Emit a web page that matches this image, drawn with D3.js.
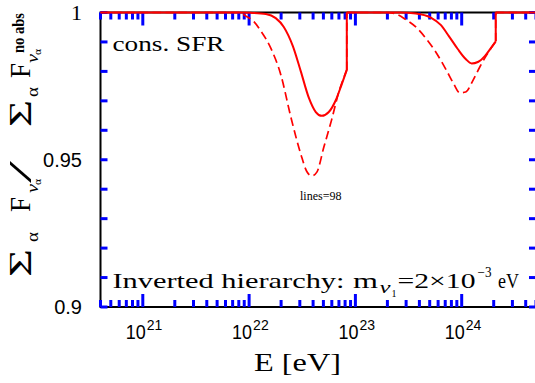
<!DOCTYPE html>
<html>
<head>
<meta charset="utf-8">
<script src="https://cdn.jsdelivr.net/npm/d3@7"></script>
</head>
<body style="margin:0">
<svg id="chart" width="535" height="383"></svg>
<script>
// energies in eV and flux ratio
// solid curve
const solidE = [4e20, 8.0e21, 1.04e22, 1.44e22, 1.78e22, 2.12e22, 2.58e22, 3.06e22, 3.65e22, 4.24e22, 4.83e22, 5.62e22, 6.55e22, 7.45e22, 8.30e22,
                8.30e22, 2.0e23, 2.67e23, 3.70e23, 5.12e23, 6.35e23, 7.57e23, 9.18e23, 1.09e24, 1.24e24, 1.42e24, 1.65e24, 1.88e24, 2.09e24,
                2.09e24, 5e24];
const solidR = [1, 1, 0.9999, 0.9995, 0.9981, 0.9951, 0.9886, 0.9801, 0.9710, 0.9662, 0.9649, 0.9662, 0.9703, 0.9757, 0.9805,
                1, 1, 1, 0.9997, 0.9983, 0.9958, 0.9920, 0.9876, 0.9842, 0.9827, 0.9832, 0.9852, 0.9879, 0.9902,
                1, 1];
// dashed curve
const dashedE = [4e20, 8.0e21, 9.31e21, 1.11e22, 1.29e22, 1.60e22, 1.99e22, 2.47e22, 3.06e22, 3.49e22, 3.89e22, 4.34e22, 5.05e22, 6.00e22, 6.98e22, 7.78e22, 8.30e22,
                 8.30e22, 1.93e23, 2.40e23, 2.98e23, 3.70e23, 4.59e23, 5.70e23, 7.08e23, 8.43e23, 9.59e23, 1.09e24, 1.27e24, 1.48e24, 1.72e24, 2.09e24,
                 2.09e24, 5e24];
const dashedR = [1, 1, 0.9988, 0.9969, 0.9937, 0.9879, 0.9788, 0.9645, 0.9520, 0.9460, 0.9445, 0.9458, 0.9543, 0.9638, 0.9730, 0.9779, 0.9805,
                 1, 1, 0.9995, 0.9976, 0.9951, 0.9913, 0.9866, 0.9808, 0.9757, 0.9727, 0.9730, 0.9768, 0.9815, 0.9856, 0.9902,
                 1, 1];

// axis ticks
const yTicks = [0.9, 0.95, 1];
const yTickLabels = ["0.9", "0.95", "1"];
const yMinor = [0.9, 0.91, 0.92, 0.93, 0.94, 0.95, 0.96, 0.97, 0.98, 0.99, 1];
const xMajor = [1e21, 1e22, 1e23, 1e24];
const xMajorExp = ["21", "22", "23", "24"];

const svg = d3.select('#chart');
const plot = { left: 100.5, right: 536, top: 12.5, bottom: 307 };

const x = d3.scaleLog().domain([4e20, 5e24]).range([plot.left, plot.right]);
const y = d3.scaleLinear().domain([0.9, 1]).range([plot.bottom, plot.top]);

// frame
svg.append('rect')
    .attr('x', plot.left).attr('y', plot.top)
    .attr('width', plot.right - plot.left).attr('height', plot.bottom - plot.top)
    .attr('fill', 'none').attr('stroke', '#000').attr('stroke-width', 2);

// tick marks, inward
const ticks = svg.append('g').attr('class', 'ticks');
x.ticks(10).forEach(v => {
    const lg = Math.log10(v);
    const len = Math.abs(lg - Math.round(lg)) < 1e-6 ? 13 : 7;
    const px = x(v);
    ticks.append('line').attr('x1', px).attr('x2', px).attr('y1', plot.bottom).attr('y2', plot.bottom - len)
        .attr('stroke', '#0000ff').attr('stroke-width', 3);
    ticks.append('line').attr('x1', px).attr('x2', px).attr('y1', plot.top).attr('y2', plot.top + len)
        .attr('stroke', '#0000ff').attr('stroke-width', 3);
});
yMinor.forEach(v => {
    const py = y(v);
    ticks.append('line').attr('x1', plot.left).attr('x2', plot.left + 7).attr('y1', py).attr('y2', py)
        .attr('stroke', '#0000ff').attr('stroke-width', 3);
    ticks.append('line').attr('x1', plot.right - 7).attr('x2', plot.right).attr('y1', py).attr('y2', py)
        .attr('stroke', '#0000ff').attr('stroke-width', 3);
});

// y tick labels
yTicks.forEach((v, i) => {
    svg.append('text')
        .attr('x', 82).attr('y', y(v)).attr('dy', '0.36em')
        .attr('text-anchor', 'end')
        .attr('font-family', yTickLabels[i] === '1' ? 'Liberation Serif, serif' : 'Liberation Sans, Arial, sans-serif')
        .attr('font-size', yTickLabels[i] === '1' ? 22 : 20)
        .text(yTickLabels[i]);
});

// x tick labels 10^n
xMajor.forEach((v, i) => {
    const t = svg.append('text')
        .attr('x', x(v) - 17).attr('y', 339)
        .attr('font-family', 'Liberation Sans, Arial, sans-serif');
    t.append('tspan').attr('font-size', 20).attr('textLength', 20).attr('lengthAdjust', 'spacingAndGlyphs').text('10');
    t.append('tspan').attr('font-size', 14).attr('dy', -9).attr('dx', 1).text(xMajorExp[i]);
});

// split a series at vertical jumps and draw it
function drawSeries(E, R, dash, width) {
    const pts = E.map((e, i) => [x(e), y(R[i])]);
    const segs = [];
    let cur = [pts[0]];
    for (let i = 1; i < pts.length; i++) {
        if (E[i] === E[i - 1]) {
            segs.push(cur);
            segs.push([pts[i - 1], pts[i]]);
            cur = [pts[i]];
        } else {
            cur.push(pts[i]);
        }
    }
    segs.push(cur);
    const path = d3.path();
    const line = d3.line().curve(d3.curveMonotoneX).context(path);
    segs.forEach(s => line(s));
    const p = svg.append('path')
        .attr('d', path.toString())
        .attr('fill', 'none')
        .attr('stroke', '#ff0000')
        .attr('stroke-width', width);
    if (dash) p.attr('stroke-dasharray', dash);
}

drawSeries(dashedE, dashedR, '8.5,4.5', 1.7);
drawSeries(solidE, solidR, null, 2);

// annotations
const serif = 'Liberation Serif, Times New Roman, serif';
svg.append('text')
    .attr('x', 112.5).attr('y', 51)
    .attr('font-family', serif).attr('font-size', 22)
    .attr('textLength', 112).attr('lengthAdjust', 'spacingAndGlyphs')
    .text('cons. SFR');

const ann = svg.append('g').attr('font-family', serif);
ann.append('text').attr('x', 112.5).attr('y', 287.5).attr('font-size', 22)
    .attr('textLength', 232).attr('lengthAdjust', 'spacingAndGlyphs').text('Inverted hierarchy:');
ann.append('text').attr('x', 353).attr('y', 287.5).attr('font-size', 22)
    .attr('textLength', 25).attr('lengthAdjust', 'spacingAndGlyphs').text('m');
ann.append('text').attr('x', 379.5).attr('y', 293).attr('font-size', 17).attr('font-style', 'italic')
    .attr('textLength', 11).attr('lengthAdjust', 'spacingAndGlyphs').text('ν');
ann.append('text').attr('x', 391.5).attr('y', 296.5).attr('font-size', 10).text('1');
ann.append('text').attr('x', 397.5).attr('y', 287.5).attr('font-size', 22)
    .attr('textLength', 78).attr('lengthAdjust', 'spacingAndGlyphs').text('=2×10');
ann.append('text').attr('x', 477.5).attr('y', 277).attr('font-size', 14)
    .attr('textLength', 14).attr('lengthAdjust', 'spacingAndGlyphs').text('−3');
ann.append('text').attr('x', 498).attr('y', 287.5).attr('font-size', 22)
    .attr('textLength', 21).attr('lengthAdjust', 'spacingAndGlyphs').text('eV');

// x axis title
svg.append('text')
    .attr('x', 254).attr('y', 371)
    .attr('font-family', serif).attr('font-size', 26)
    .attr('textLength', 87).attr('lengthAdjust', 'spacingAndGlyphs')
    .text('E [eV]');

// y axis title, rotated
const yl = svg.append('g').attr('transform', 'translate(31,0) rotate(-90)').attr('font-family', serif);
function piece(txt, lx, ly, size, len, extra) {
    const t = yl.append('text').attr('x', lx).attr('y', ly).attr('font-size', size).text(txt);
    if (len) t.attr('textLength', len).attr('lengthAdjust', 'spacingAndGlyphs');
    if (extra) extra(t);
    return t;
}
piece('Σ', -277, 0, 31, 28);
piece('α', -242, 7, 17, 10);
piece('F', -212, -1, 30, 15);
piece('ν', -193, 7, 17, 9, t => t.attr('font-style', 'italic'));
piece('α', -185, 10, 11, 6);
piece('/', -183, 0, 32, 22);
piece('Σ', -127, 0, 31, 27);
piece('α', -97, 7, 17, 10);
piece('F', -78, -1, 30, 15);
piece('no abs', -53, -7, 17, 40, t => t.attr('font-weight', 'bold'));
piece('ν', -63, 7, 17, 9, t => t.attr('font-style', 'italic'));
piece('α', -55, 10, 11, 6);

// temporary check: how many tick lines ended up in the page
svg.append('text').attr('x', 300).attr('y', 200).attr('font-size', 12)
    .text('lines=' + document.querySelectorAll('#chart line').length);
</script>
</body>
</html>
